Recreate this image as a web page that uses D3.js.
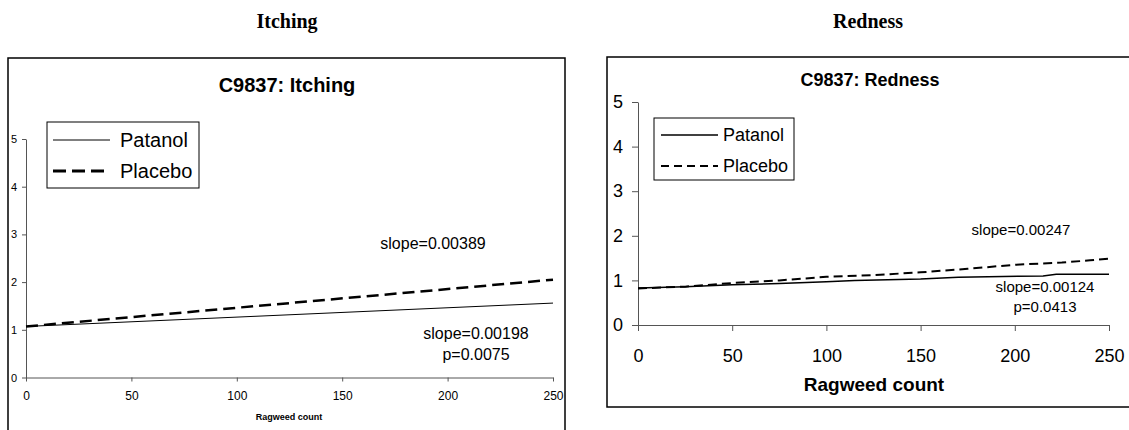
<!DOCTYPE html>
<html>
<head>
  <meta charset="utf-8">
  <script src="https://d3js.org/d3.v7.min.js"></script>
  <style>
    body { margin: 0; background: #fff; }
    svg text { font-family: Arial, "Liberation Sans", sans-serif; }
    .axis .domain, .axis line { stroke: #555; }
    .axis text { fill: #000; }
  </style>
</head>
<body>
<svg id="chart" width="1129" height="430"></svg>
<script>
  // ---- data
  const xTicks = [0, 50, 100, 150, 200, 250];
  const yTicks = [0, 1, 2, 3, 4, 5];
  const seriesNames = ['Patanol', 'Placebo'];

  // Itching: fitted lines (ragweed count, score)
  const itchPatanol = [[0, 1.07], [250, 1.56]];
  const itchPlacebo = [[0, 1.07], [250, 2.05]];
  const itchNotes = ['slope=0.00389', 'slope=0.00198', 'p=0.0075'];

  // Redness: slightly bumpy lines
  const redPatanol = [[0, 0.83], [25, 0.86], [50, 0.9], [75, 0.93], [100, 0.97], [115, 1.0],
    [150, 1.03], [170, 1.07], [215, 1.1], [222, 1.14], [250, 1.14]];
  const redPlacebo = [[0, 0.82], [25, 0.86], [50, 0.94], [75, 1.0], [100, 1.08], [125, 1.12],
    [150, 1.18], [175, 1.26], [200, 1.35], [225, 1.4], [240, 1.45], [250, 1.49]];
  const redNotes = ['slope=0.00247', 'slope=0.00124', 'p=0.0413'];

  const svg = d3.select('#chart');
  const fmt = d3.format('d');

  // page headings
  svg.append('text').attr('x', 287).attr('y', 28).attr('text-anchor', 'middle')
    .style('font-family', '"Times New Roman", "Liberation Serif", serif')
    .style('font-weight', 'bold').style('font-size', '20px').text('Itching');
  svg.append('text').attr('x', 868).attr('y', 28).attr('text-anchor', 'middle')
    .style('font-family', '"Times New Roman", "Liberation Serif", serif')
    .style('font-weight', 'bold').style('font-size', '20px').text('Redness');

  // ---------- Itching panel
  svg.append('rect').attr('x', 8).attr('y', 58).attr('width', 557).attr('height', 400)
    .attr('fill', 'none').attr('stroke', '#000').attr('stroke-width', 1.5);

  const x1 = d3.scaleLinear().domain([0, 250]).range([26, 553]);
  const y1 = d3.scaleLinear().domain([0, 5]).range([377.5, 139]);

  svg.append('text').attr('x', 287).attr('y', 92).attr('text-anchor', 'middle')
    .style('font-weight', 'bold').style('font-size', '20px').text('C9837: Itching');

  svg.append('g').attr('class', 'axis')
    .attr('transform', `translate(${x1(0)},0)`)
    .call(d3.axisLeft(y1).tickValues(yTicks).tickFormat(fmt).tickSize(4).tickPadding(5).tickSizeOuter(0))
    .call(g => g.selectAll('text').style('font-size', '11px'));
  svg.append('g').attr('class', 'axis')
    .attr('transform', `translate(0,${y1(0)})`)
    .call(d3.axisBottom(x1).tickValues(xTicks).tickFormat(fmt).tickSize(4).tickPadding(10).tickSizeOuter(0))
    .call(g => g.selectAll('text').style('font-size', '12px'));

  svg.append('text').attr('x', 289).attr('y', 420).attr('text-anchor', 'middle')
    .style('font-weight', 'bold').style('font-size', '9px').text('Ragweed count');

  const line1 = d3.line().x(d => x1(d[0])).y(d => y1(d[1]));
  svg.append('path').attr('d', line1(itchPatanol)).attr('fill', 'none')
    .attr('stroke', '#000').attr('stroke-width', 1);
  svg.append('path').attr('d', line1(itchPlacebo)).attr('fill', 'none')
    .attr('stroke', '#000').attr('stroke-width', 2.5).attr('stroke-dasharray', '12,6');

  svg.append('text').attr('x', 433).attr('y', 249).attr('text-anchor', 'middle')
    .style('font-size', '16px').text(itchNotes[0]);
  svg.append('text').attr('x', 476).attr('y', 339).attr('text-anchor', 'middle')
    .style('font-size', '16px').text(itchNotes[1]);
  svg.append('text').attr('x', 476).attr('y', 360).attr('text-anchor', 'middle')
    .style('font-size', '16px').text(itchNotes[2]);

  // legend
  const leg1 = svg.append('g');
  leg1.append('rect').attr('x', 47).attr('y', 122).attr('width', 152).attr('height', 66)
    .attr('fill', '#fff').attr('stroke', '#000').attr('stroke-width', 1);
  seriesNames.forEach((name, i) => {
    const yy = 140 + i * 31;
    leg1.append('line').attr('x1', 53).attr('x2', 110).attr('y1', yy).attr('y2', yy)
      .attr('stroke', '#000').attr('stroke-width', i ? 3 : 1)
      .attr('stroke-dasharray', i ? '13,6' : null);
    leg1.append('text').attr('x', 120).attr('y', yy + 7).style('font-size', '20px').text(name);
  });

  // ---------- Redness panel
  svg.append('rect').attr('x', 607).attr('y', 57).attr('width', 540).attr('height', 350)
    .attr('fill', 'none').attr('stroke', '#000').attr('stroke-width', 1.5);

  const x2 = d3.scaleLinear().domain([0, 250]).range([638, 1109]);
  const y2 = d3.scaleLinear().domain([0, 5]).range([325, 102]);

  svg.append('text').attr('x', 870).attr('y', 86).attr('text-anchor', 'middle')
    .style('font-weight', 'bold').style('font-size', '18px').text('C9837: Redness');

  svg.append('g').attr('class', 'axis')
    .attr('transform', `translate(${x2(0)},0)`)
    .call(d3.axisLeft(y2).tickValues(yTicks).tickFormat(fmt).tickSize(6).tickPadding(9).tickSizeOuter(0))
    .call(g => g.selectAll('text').style('font-size', '18px'));
  svg.append('g').attr('class', 'axis')
    .attr('transform', `translate(0,${y2(0)})`)
    .call(d3.axisBottom(x2).tickValues(xTicks).tickFormat(fmt).tickSize(6).tickPadding(18).tickSizeOuter(0))
    .call(g => g.selectAll('text').style('font-size', '18px'));

  svg.append('text').attr('x', 874).attr('y', 391).attr('text-anchor', 'middle')
    .style('font-weight', 'bold').style('font-size', '19px').text('Ragweed count');

  const line2 = d3.line().x(d => x2(d[0])).y(d => y2(d[1]));
  svg.append('path').attr('d', line2(redPatanol)).attr('fill', 'none')
    .attr('stroke', '#000').attr('stroke-width', 1.5);
  svg.append('path').attr('d', line2(redPlacebo)).attr('fill', 'none')
    .attr('stroke', '#000').attr('stroke-width', 2).attr('stroke-dasharray', '9,5');

  svg.append('text').attr('x', 1021).attr('y', 235).attr('text-anchor', 'middle')
    .style('font-size', '15px').text(redNotes[0]);
  svg.append('text').attr('x', 1045).attr('y', 292).attr('text-anchor', 'middle')
    .style('font-size', '15px').text(redNotes[1]);
  svg.append('text').attr('x', 1045).attr('y', 312).attr('text-anchor', 'middle')
    .style('font-size', '15px').text(redNotes[2]);

  const leg2 = svg.append('g');
  leg2.append('rect').attr('x', 654).attr('y', 118).attr('width', 140).attr('height', 62)
    .attr('fill', '#fff').attr('stroke', '#000').attr('stroke-width', 1);
  seriesNames.forEach((name, i) => {
    const yy = 135 + i * 31;
    leg2.append('line').attr('x1', 661).attr('x2', 718).attr('y1', yy).attr('y2', yy)
      .attr('stroke', '#000').attr('stroke-width', i ? 2 : 1.5)
      .attr('stroke-dasharray', i ? '8,5' : null);
    leg2.append('text').attr('x', 723).attr('y', yy + 6).style('font-size', '18px').text(name);
  });
</script>
</body>
</html>
